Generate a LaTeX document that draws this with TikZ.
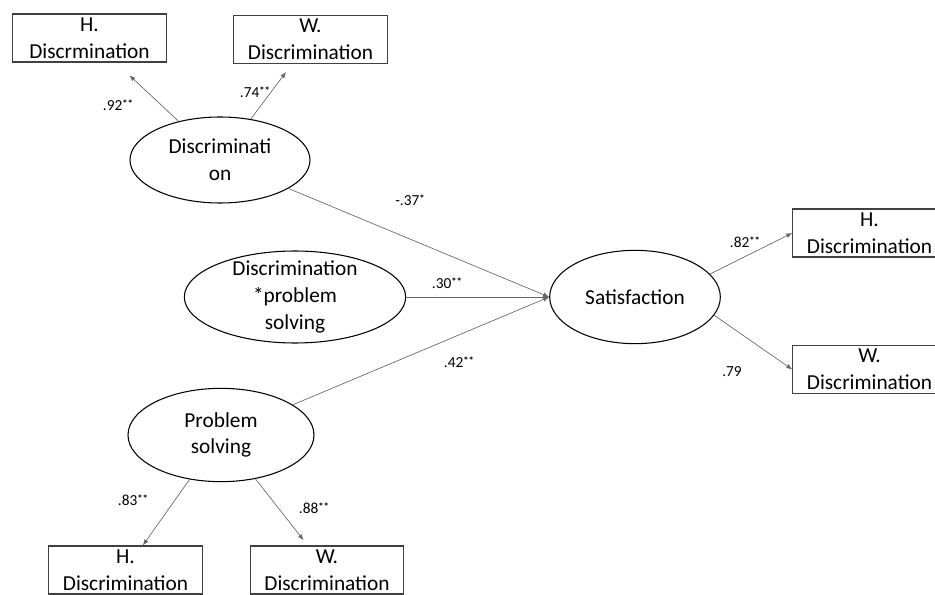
\documentclass[tikz,border=0pt]{standalone}
\usepackage{fontspec}
\setmainfont{Carlito}
\usetikzlibrary{arrows.meta, shapes.geometric}

\newcommand{\sig}[1]{\raisebox{0.45ex}{\fontsize{8}{8}\selectfont\bfseries #1}}

\begin{document}
\begin{tikzpicture}[
  x=0.75pt, y=-0.75pt,
  latent/.style={ellipse, draw=black, line width=0.8pt, inner sep=0pt},
  lattext/.style={align=center, inner sep=0pt, font=\fontsize{16}{20}\selectfont},
  indicator/.style={rectangle, draw=black!75, line width=0.8pt, minimum width=115pt, minimum height=36pt, inner sep=0pt, align=center, font=\fontsize{16}{20}\selectfont},
  path/.style={-{Latex[length=4.5pt, width=3.5pt]}, draw=black!60, line width=0.5pt},
  coef/.style={inner sep=0pt, font=\fontsize{11.5}{13}\selectfont}
]
\useasboundingbox (0,0) rectangle (935,595);
\clip (0,0) rectangle (935,595);

% latent variables
\node[latent, minimum width=135pt, minimum height=64.5pt, label={[lattext]center:Discriminati\\on}] (disc) at (220,160) {};
\node[latent, minimum width=166pt, minimum height=69pt, label={[lattext]center:Discrimination\\*problem\\solving}] (inter) at (295,297) {};
\node[latent, minimum width=128pt, minimum height=70pt, label={[lattext]center:Satisfaction}] (sat) at (635,297) {};
\node[latent, minimum width=139.5pt, minimum height=70pt, label={[lattext]center:Problem\\solving}] (prob) at (221,435) {};

% indicators
\node[indicator] (disc h) at (89.5,38) {H.\\Discrmination};
\node[indicator] (disc w) at (310.5,39.5) {W.\\Discrimination};
\node[indicator] (sat h) at (869.5,233) {H.\\Discrimination};
\node[indicator] (sat w) at (869.5,369.5) {W.\\Discrimination};
\node[indicator] (prob h) at (125.5,570) {H.\\Discrimination};
\node[indicator] (prob w) at (327,570) {W.\\Discrimination};

% paths
\draw[path, shorten >=14pt] (disc) -- (disc h);
\draw[path, shorten >=7.5pt] (disc) -- (disc w);
\draw[path] (disc) -- (sat.west);
\draw[path] (inter) -- (sat.west);
\draw[path] (prob) -- (sat.west);
\draw[path] (sat.17) -- (sat h.west);
\draw[path] (sat.-13) -- (sat w.west);
\draw[path] (prob) -- (prob h);
\draw[path, shorten >=5pt] (prob) -- (prob w);

% coefficients
\node[coef] (c disc h) at (118,105) {.92\sig{**}};
\node[coef] (c disc w) at (255,92) {.74\sig{**}};
\node[coef] (c disc) at (410,200) {-.37\sig{*}};
\node[coef] (c inter) at (447,283) {.30\sig{**}};
\node[coef] (c prob) at (459,362) {.42\sig{**}};
\node[coef] (c sat h) at (745,242) {.82\sig{**}};
\node[coef] (c sat w) at (732,372) {.79};
\node[coef] (c prob h) at (133,500) {.83\sig{**}};
\node[coef] (c prob w) at (314,508) {.88\sig{**}};

\end{tikzpicture}
\end{document}
